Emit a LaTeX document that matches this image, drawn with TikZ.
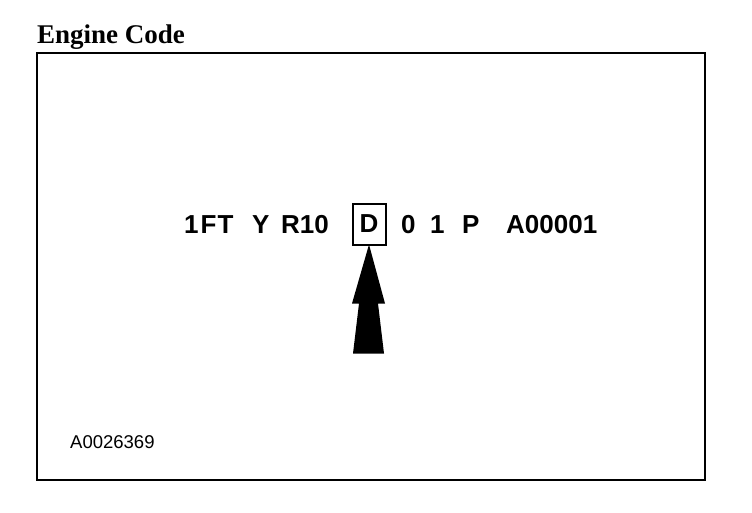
\documentclass[tikz,border=0pt]{standalone}
\usepackage{fontspec}
\setmainfont{Liberation Serif}
\setsansfont{Liberation Sans}
\usetikzlibrary{calc}
\usepackage{xcolor}
\definecolor{inkblack}{HTML}{000000}

\tikzset{
  codepart/.style={anchor=base west, inner sep=0pt, text=inkblack,
    font=\sffamily\bfseries\fontsize{26}{26}\selectfont},
  codebox/.style={draw=inkblack, line width=2pt, inner sep=0pt,
    minimum width=33pt, minimum height=41pt,
    font=\sffamily\bfseries\fontsize{26}{26}\selectfont},
}

\begin{document}
\begin{tikzpicture}[x=1pt, y=-1pt]

  % Page canvas
  \useasboundingbox (0,0) rectangle (752,512);

  % Heading
  \node[anchor=base west, inner sep=0pt, font=\bfseries\fontsize{27}{27}\selectfont]
    (title) at (37,43) {Engine Code};

  % Outer frame
  \draw[inkblack, line width=2.6pt] (37,53) rectangle (705,480);

  % Code line
  \node[codepart] (plant) at (184,233) {1\kern2pt F\kern1pt T};
  \node[codepart] (line)  at (252,233) {Y};
  \node[codepart] (model) at (281,233) {R10};
  \node[codebox]  (engine) at (369,224) {\raisebox{-1pt}{D}};
  \node[codepart] (check) at (401,233) {0};
  \node[codepart] (year)  at (430,233) {1};
  \node[codepart] (place) at (462,233) {P};
  \node[codepart] (serial) at (506,233) {A00001};

  % Pointer arrow under the engine letter
  \coordinate (tip) at ($(engine.south)+(0,-1)$);
  \fill[inkblack]
    (tip) -- ++(16,59) -- ++(-7,0) -- ++(6,50) -- ++(-31,0)
    -- ++(6,-50) -- ++(-7,0) -- cycle;

  % Figure number
  \node[anchor=base west, inner sep=0pt, font=\sffamily\fontsize{18.5}{18.5}\selectfont]
    (figno) at (70,448) {A0026369};

\end{tikzpicture}
\end{document}
